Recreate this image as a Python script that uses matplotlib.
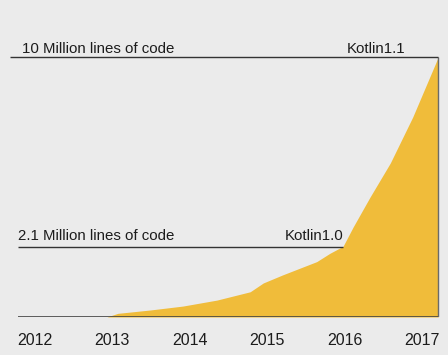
import matplotlib
matplotlib.use("Agg")
import matplotlib.pyplot as plt

# growth of Kotlin code on GitHub (millions of lines)
years = [2012.93, 2013.07, 2013.49, 2013.91, 2014.35, 2014.78, 2014.95,
         2015.20, 2015.64, 2015.81, 2015.98, 2016.11, 2016.33, 2016.59,
         2016.88, 2017.21]
lines_mloc = [0.0, 0.14, 0.27, 0.42, 0.65, 0.97, 1.31,
              1.62, 2.13, 2.45, 2.72, 3.46, 4.62, 5.92,
              7.69, 10.0]

tick_years = [2012, 2013, 2014, 2015, 2016, 2017]

# release markers
release_labels = ["Kotlin1.0", "Kotlin1.1"]
release_levels = [2.70, 10.0]
release_years = [2015.98, 2017.21]
level_labels = ["2.1 Million lines of code", "10 Million lines of code"]

BG = "#ebebeb"
FILL = "#f0bc3a"
INK = "#1c1c1c"
FONT = "Liberation Sans"


def plot_growth(out_path):
    fig = plt.figure(figsize=(4.48, 3.55), dpi=100, facecolor=BG)
    ax = fig.add_axes([0, 38 / 355, 1, 317 / 355])
    ax.set_facecolor(BG)

    ax.fill_between(years, 0, lines_mloc, color=FILL, linewidth=0)
    ax.vlines(years[-1], 0, lines_mloc[-1], color="#6a6a6a", linewidth=1)
    ax.hlines(0, 2011.78, years[-1], color="#444444", linewidth=1.2)

    starts = [2011.78, 2011.68]
    label_x = [2011.78, 2011.83]
    label_y = [2.98, 10.15]
    release_right = [2015.98, 2016.78]
    for i in range(len(release_levels)):
        ax.hlines(release_levels[i], starts[i], release_years[i],
                  color="#333333", linewidth=1)
        ax.text(label_x[i], label_y[i], level_labels[i], family=FONT,
                fontsize=10.8, color=INK, va="baseline", ha="left")
        ax.text(release_right[i], label_y[i], release_labels[i], family=FONT,
                fontsize=10.8, color=INK, va="baseline", ha="right")

    ax.set_xlim(2011.548, 2017.336)
    ax.set_ylim(0, 317 / 26)
    ax.set_xticks(tick_years)
    ax.set_xticklabels([str(y) for y in tick_years], family=FONT,
                       fontsize=11.5, color=INK)
    ax.tick_params(axis="x", length=0, pad=11.5)
    ax.set_yticks([])
    for side in ax.spines.values():
        side.set_visible(False)

    fig.savefig(out_path, dpi=100, facecolor=BG)
    plt.close(fig)


if __name__ == "__main__":
    plot_growth("out.png")
